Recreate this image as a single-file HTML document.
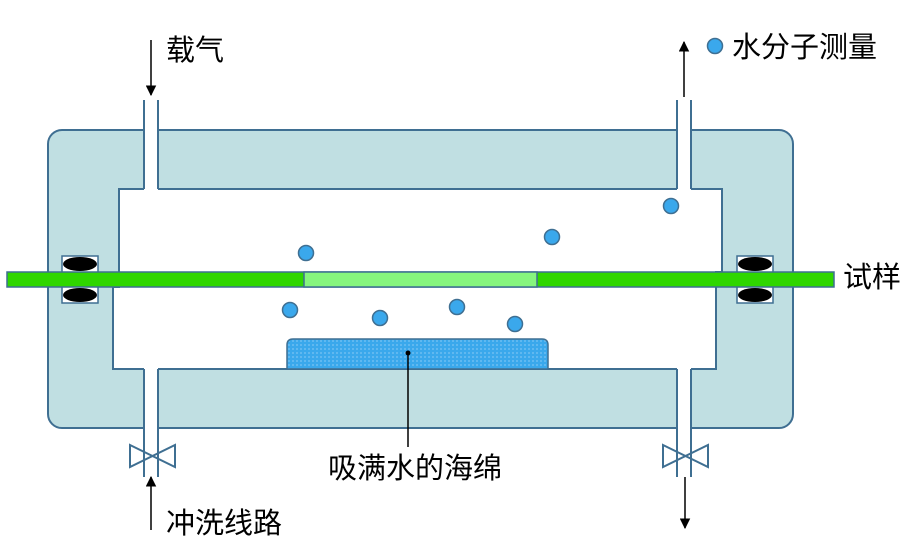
<!DOCTYPE html>
<html><head><meta charset="utf-8"><style>
html,body{margin:0;padding:0;background:#fff;}
svg{display:block;}
text{font-family:"Liberation Sans","Noto Sans CJK SC",sans-serif;font-size:29px;fill:#000;}
</style></head><body>
<svg width="906" height="552" viewBox="0 0 906 552" xmlns="http://www.w3.org/2000/svg">
<defs>
<marker id="ah" viewBox="0 0 10 10" refX="9" refY="5" markerWidth="7" markerHeight="7" orient="auto"><path d="M0,0 L10,5 L0,10 z" fill="#000"/></marker>
<pattern id="dots" width="4" height="4" patternUnits="userSpaceOnUse"><rect width="4" height="4" fill="#3aa8ec"/><circle cx="1" cy="1" r="0.6" fill="#bfe3fa"/></pattern>
</defs>
<rect x="48" y="130" width="745" height="298" rx="14" fill="#c0dfe2" stroke="#3f6f92" stroke-width="2"/>
<path d="M119,189 L722,189 L722,272 L716,272 L716,369 L113,369 L113,287 L119,287 Z" fill="#fff" stroke="#3f6f92" stroke-width="2"/>
<rect x="144" y="98" width="14" height="93" fill="#fff"/>
<rect x="677" y="98" width="14" height="93" fill="#fff"/>
<rect x="144" y="367" width="14" height="112" fill="#fff"/>
<rect x="677" y="367" width="14" height="112" fill="#fff"/>
<g stroke="#3f6f92" stroke-width="2">
<line x1="144" y1="100" x2="144" y2="189"/><line x1="158" y1="100" x2="158" y2="189"/>
<line x1="677" y1="100" x2="677" y2="189"/><line x1="691" y1="100" x2="691" y2="189"/>
<line x1="144" y1="369" x2="144" y2="477"/><line x1="158" y1="369" x2="158" y2="477"/>
<line x1="677" y1="369" x2="677" y2="477"/><line x1="691" y1="369" x2="691" y2="477"/>
</g>
<path d="M130,445 L175,467 L175,445 L130,467 Z" fill="none" stroke="#3f6f92" stroke-width="2"/>
<path d="M663,445 L708,467 L708,445 L663,467 Z" fill="none" stroke="#3f6f92" stroke-width="2"/>
<rect x="62" y="256" width="36" height="47" fill="#fff" stroke="#3f6f92" stroke-width="1.5"/>
<rect x="737" y="256" width="36" height="47" fill="#fff" stroke="#3f6f92" stroke-width="1.5"/>
<ellipse cx="80" cy="264" rx="17" ry="7" fill="#000"/>
<ellipse cx="80" cy="295" rx="17" ry="7" fill="#000"/>
<ellipse cx="755" cy="264" rx="17" ry="7" fill="#000"/>
<ellipse cx="755" cy="295" rx="17" ry="7" fill="#000"/>
<rect x="7" y="272" width="827" height="15" fill="#2fd600" stroke="#3f6f92" stroke-width="1.5"/>
<rect x="304" y="272" width="233" height="15" fill="#86f57e" stroke="#3f6f92" stroke-width="1.5"/>
<path d="M287,369 L287,345 Q287,339 293,339 L542,339 Q548,339 548,345 L548,369 Z" fill="url(#dots)" stroke="#3f6f92" stroke-width="1.5"/>
<g fill="#3aa8ec" stroke="#3f6f92" stroke-width="1.5">
<circle cx="306" cy="253" r="7.5"/><circle cx="552" cy="237" r="7.5"/><circle cx="671" cy="206" r="7.5"/>
<circle cx="290" cy="310" r="7.5"/><circle cx="380" cy="318" r="7.5"/><circle cx="457" cy="307" r="7.5"/>
<circle cx="515" cy="324" r="7.5"/><circle cx="715" cy="46" r="7.5"/>
</g>
<circle cx="408" cy="353" r="2.5" fill="#000"/>
<line x1="408" y1="353" x2="408" y2="447" stroke="#000" stroke-width="1.5"/>
<g stroke="#000" stroke-width="1.5">
<line x1="151" y1="40" x2="151" y2="95" marker-end="url(#ah)"/>
<line x1="684" y1="97" x2="684" y2="42" marker-end="url(#ah)"/>
<line x1="151" y1="530" x2="151" y2="477" marker-end="url(#ah)"/>
<line x1="685" y1="477" x2="685" y2="528" marker-end="url(#ah)"/>
</g>
<text x="166" y="60">载气</text>
<text x="732" y="57">水分子测量</text>
<text x="843" y="287">试样</text>
<text x="328" y="478">吸满水的海绵</text>
<text x="166" y="533">冲洗线路</text>
</svg>
</body></html>
